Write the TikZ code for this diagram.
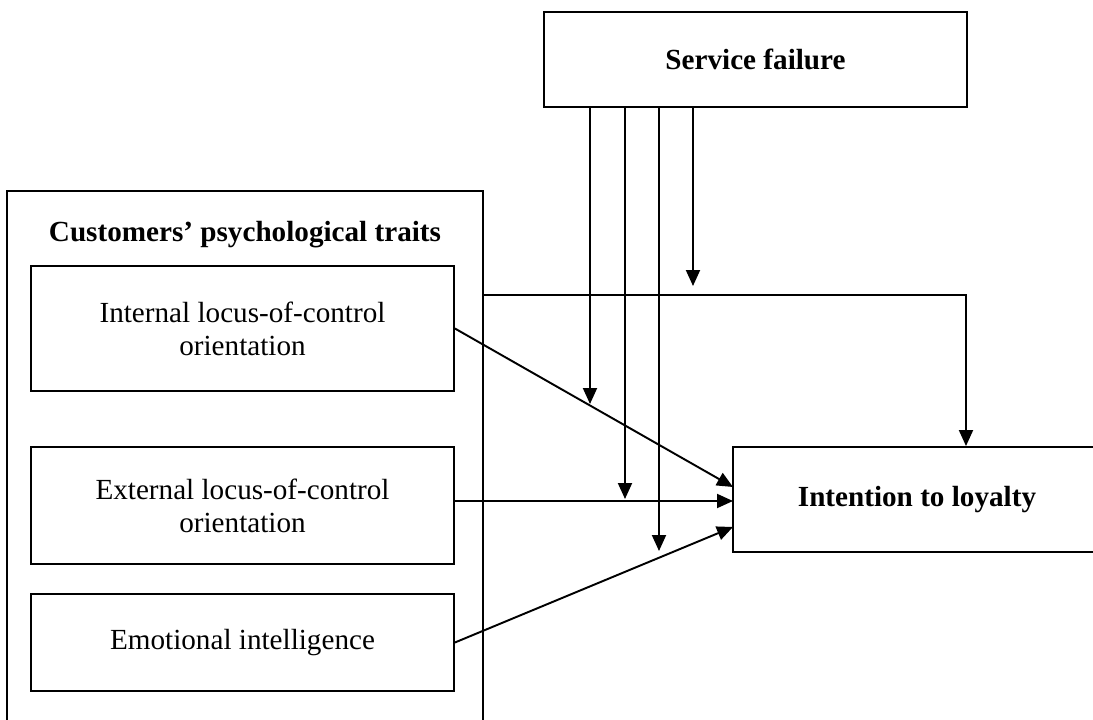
\documentclass[tikz,border=0pt]{standalone}
\usepackage{fontspec}
\setmainfont{Liberation Serif}
\usetikzlibrary{arrows.meta}

\begin{document}
\begin{tikzpicture}[%
  x = 0.02cm, y = -0.02cm,
  box/.style = {rectangle, draw, line width = 1.1pt, inner sep = 0pt, align = center,
    font = \fontsize{16.6}{18.8}\selectfont},
  head/.style = {font = \fontsize{16.6}{18.8}\selectfont\bfseries},
  link/.style = {line width = 1.1pt, -{Triangle[length = 0.32cm, width = 0.28cm]}}]
  \useasboundingbox (0, 0) rectangle (1093, 720);

  \node[box, head, minimum width = 8.46cm, minimum height = 1.9cm] (service) at (755.5, 59.5) {Service failure};
  \node[box, minimum width = 9.52cm, minimum height = 11.18cm] (traits) at (245, 470.5) {};
  \node[head] (traitslabel) at (245, 235) {Customers' psychological traits};
  \node[box, minimum width = 8.46cm, minimum height = 2.5cm] (internal) at (242.5, 328.5) {Internal locus-of-control\\orientation};
  \node[box, minimum width = 8.46cm, minimum height = 2.34cm] (external) at (242.5, 505.5) {External locus-of-control\\orientation};
  \node[box, minimum width = 8.46cm, minimum height = 1.94cm] (emotional) at (242.5, 642.5) {Emotional intelligence};
  \node[box, head, minimum width = 7.36cm, minimum height = 2.1cm] (loyalty) at (917, 499.5) {Intention to loyalty};

  \coordinate (hit1) at (590, 404);
  \coordinate (hit2) at (625, 499);
  \coordinate (hit3) at (659, 551);
  \coordinate (hit4) at (693, 286);
  \coordinate (bend) at (966, 295);
  \coordinate (in1) at (733, 487);
  \coordinate (in2) at (733, 501);
  \coordinate (in3) at (733, 527);

  \draw[link] (internal.east) -- (in1);
  \draw[link] (external.east |- in2) -- (in2);
  \draw[link] (emotional.east) -- (in3);
  \draw[link] (traits.east |- bend) -- (bend) -- (bend |- loyalty.north);

  \draw[link] (service.south -| hit1) -- (hit1);
  \draw[link] (service.south -| hit2) -- (hit2);
  \draw[link] (service.south -| hit3) -- (hit3);
  \draw[link] (service.south -| hit4) -- (hit4);
\end{tikzpicture}
\end{document}
